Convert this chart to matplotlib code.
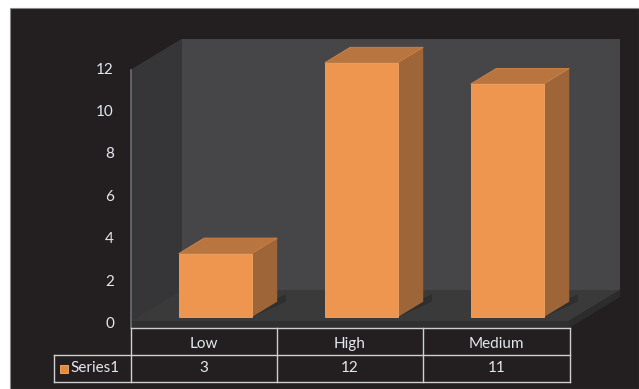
import matplotlib
matplotlib.use("Agg")
import matplotlib.pyplot as plt
from matplotlib.patches import Rectangle, Polygon
import numpy as np

# data
categories = ["Low", "High", "Medium"]
series_name = "Series1"
values = [3, 12, 11]
y_ticks = [0, 2, 4, 6, 8, 10, 12]

# colours
BG = "#231f20"
BACK_WALL = "#464648"
SIDE_WALL = "#363537"
FLOOR = "#3a3a3b"
FLOOR_EDGE = "#303031"
BAR_FRONT = "#ee9650"
BAR_SIDE = "#9e6538"
BAR_TOP = "#b9753f"
TXT = "#e4e8ee"
GRID = "#cfcfcf"

W, H = 639, 389
plt.rcParams['font.family'] = ['Lato', 'DejaVu Sans']
fig = plt.figure(figsize=(W / 100, H / 100), dpi=100, facecolor="white")

ax = fig.add_axes([0, 0, 1, 1])
ax.set_axis_off()

# black chart area with a thin grey frame
ax.add_patch(Rectangle((10 / W, 0), 1 - 10 / W, 1 - 8 / H, transform=ax.transAxes,
                       facecolor=BG, edgecolor="#8a8a8a", lw=0.8, zorder=0, clip_on=False))

# front plane: x -0.5..2.5 spans px 131..569, y 0 at px 324, 21.2 px per unit
X0, CW = 131, 146
Y0, YS = 324, 21.2
ax.set_xlim(-0.5 - X0 / CW, -0.5 + (W - X0) / CW)
ax.set_ylim(-(H - Y0) / YS, Y0 / YS)

def px(p):
    return -0.5 + (p - X0) / CW

def py(p):
    return (Y0 - p) / YS

DX, DY = 51 / CW, 31 / YS   # depth vector
ymax = y_ticks[-1]
n = len(categories)
xl, xr = -0.5, n - 0.5

# walls and floor
fl = py(321)
th = py(328)
ax.add_patch(Rectangle((xl + DX, fl + DY), n, ymax - fl, facecolor=BACK_WALL, edgecolor="none", zorder=1))
ax.add_patch(Polygon([(xl, th), (xl, ymax), (xl + DX, ymax + DY), (xl + DX, fl + DY)],
                     facecolor=SIDE_WALL, edgecolor="none", zorder=1))
ax.add_patch(Polygon([(xl, fl), (xr, fl), (xr + DX, fl + DY), (xl + DX, fl + DY)],
                     facecolor=FLOOR, edgecolor="none", zorder=2))
ax.add_patch(Polygon([(xl, th), (xr, th), (xr, fl), (xl, fl)],
                     facecolor=FLOOR_EDGE, edgecolor="none", zorder=2))
ax.add_patch(Polygon([(xr, fl), (xr + DX, fl + DY), (xr + DX, th + DY), (xr, th)],
                     facecolor="#2c2c2d", edgecolor="none", zorder=2))
ax.plot([xl, xl], [th, ymax], color="#6e6e6e", lw=1.2, zorder=3)

# bars
f0, bd, bw = 0.22, 0.5, 0.5
xs = np.arange(n)
bx = xs + f0 * DX
by = f0 * DY
for i, v in enumerate(values):
    # shadow on floor
    ax.add_patch(Polygon([(bx[i] + bw / 2, by), (bx[i] + bw / 2 + bd * DX + 0.06, by + bd * DY),
                          (bx[i] + bw / 2 + bd * DX + 0.06, by + bd * DY + 0.35), (bx[i] + bw / 2, by + 0.35)],
                         facecolor="#2f2f30", edgecolor="none", zorder=3))
ax.bar(bx, values, width=bw, bottom=by, color=BAR_FRONT, edgecolor="#f3a665", lw=0.6, zorder=5)
for i, v in enumerate(values):
    r = bx[i] + bw / 2
    l = bx[i] - bw / 2
    top = by + v
    ax.add_patch(Polygon([(r, by), (r + bd * DX, by + bd * DY), (r + bd * DX, top + bd * DY), (r, top)],
                         facecolor=BAR_SIDE, edgecolor="none", zorder=4))
    ax.add_patch(Polygon([(l, top), (r, top), (r + bd * DX, top + bd * DY), (l + bd * DX, top + bd * DY)],
                         facecolor=BAR_TOP, edgecolor="#d08548", lw=0.6, zorder=4))

# y tick labels
for t in y_ticks:
    ax.text(px(114), t, str(t), color=TXT, fontsize=11, ha="right", va="center")

# data table
lc = dict(color=GRID, lw=1, zorder=6)
col_px = [131, 277, 423, 570]
r0, r1, r2 = py(328), py(355), py(382)
ax.plot([px(131), px(570)], [r0, r0], **lc)
ax.plot([px(54), px(570)], [r1, r1], **lc)
ax.plot([px(54), px(570)], [r2, r2], **lc)
for c in col_px:
    ax.plot([px(c), px(c)], [r0, r2], **lc)
ax.plot([px(54), px(54)], [r1, r2], **lc)
for i, cat in enumerate(categories):
    xc = px((col_px[i] + col_px[i + 1]) / 2)
    ax.text(xc, (r0 + r1) / 2 - 0.1, cat, color=TXT, fontsize=11, ha="center", va="center")
    ax.text(xc, (r1 + r2) / 2, str(values[i]), color=TXT, fontsize=11, ha="center", va="center")
ax.add_patch(Rectangle((px(60), py(373)), 8 / CW, 8 / YS, facecolor="#e58a3a",
                       edgecolor="#f6b070", lw=0.6, zorder=6))
ax.text(px(70), (r1 + r2) / 2, series_name, color=TXT, fontsize=11, ha="left", va="center")

fig.savefig("out.png", dpi=100, facecolor="white")
